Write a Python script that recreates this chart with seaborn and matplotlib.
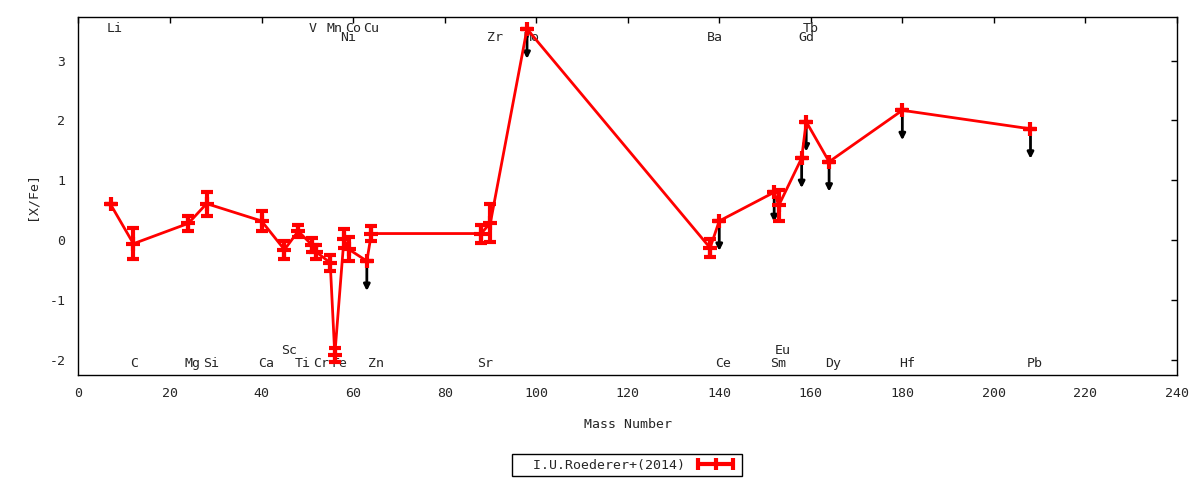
import seaborn as sns
import pandas as pd
import matplotlib.pyplot as plt
from matplotlib.lines import Line2D

# elements, mass numbers and [X/Fe]
elements = ["Li", "C", "Mg", "Si", "Ca", "Sc", "Ti", "V", "Cr", "Mn", "Fe", "Ni", "Co", "Cu",
            "Zn", "Sr", "Zr", "Mo", "Ba", "Ce", "Sm", "Eu", "Gd", "Tb", "Dy", "Hf", "Pb"]
mass = [7, 12, 24, 28, 40, 45, 48, 51, 52, 55, 56, 58, 59, 63,
        64, 88, 90, 98, 138, 140, 152, 153, 158, 159, 164, 180, 208]
xfe = [0.60, -0.06, 0.28, 0.61, 0.32, -0.16, 0.15, -0.08, -0.20, -0.38, -1.92, 0.02, -0.15, -0.35,
       0.11, 0.11, 0.29, 3.53, -0.13, 0.32, 0.80, 0.58, 1.37, 1.98, 1.31, 2.17, 1.86]
err = [0.0, 0.26, 0.13, 0.20, 0.17, 0.15, 0.10, 0.12, 0.12, 0.13, 0.12, 0.16, 0.20, 0.0,
       0.12, 0.15, 0.32, 0.0, 0.15, 0.0, 0.0, 0.26, 0.0, 0.0, 0.0, 0.0, 0.0]
upper_limit = [False, False, False, False, False, False, False, False, False, False, False, False, False, True,
               False, False, False, True, False, True, True, False, True, True, True, True, True]
# row of the element name label: t1/t2 near top, b1/b2 near bottom
label_row = ["t1", "b1", "b1", "b1", "b1", "b2", "b1", "t1", "b1", "t1", "b1", "t2", "t1", "t1",
             "b1", "b1", "t2", "t2", "t2", "b1", "b1", "b2", "t2", "t1", "b1", "b1", "b1"]

df = pd.DataFrame({"el": elements, "mass": mass, "xfe": xfe, "err": err,
                   "ul": upper_limit, "row": label_row})

sns.set_style("white")
plt.rcParams["font.family"] = ["DejaVu Sans Mono"]
plt.rcParams["font.size"] = 9.5
plt.rcParams["axes.unicode_minus"] = False

fig = plt.figure(figsize=(12, 4.8), dpi=100)
ax = fig.add_axes([0.0654, 0.2181, 0.9154, 0.7465])

row_y = {"t1": 3.545, "t2": 3.38, "b1": -2.07, "b2": -1.84}
for _, r in df.iterrows():
    ax.text(r["mass"] - 0.8, row_y[r["row"]], r["el"], ha="left", va="center", zorder=1)

# upper limits
for _, r in df[df["ul"]].iterrows():
    ax.annotate("", xy=(r["mass"], r["xfe"] - 0.5), xytext=(r["mass"], r["xfe"]),
                arrowprops=dict(arrowstyle="-|>", color="black", lw=2,
                                mutation_scale=9, shrinkA=0, shrinkB=0), zorder=2)

sns.lineplot(data=df, x="mass", y="xfe", color="red", lw=2, marker="+", markersize=10,
             markeredgewidth=3, markeredgecolor="red", estimator=None, sort=False, ax=ax, zorder=3)
ax.errorbar(df["mass"], df["xfe"], yerr=df["err"], fmt="none", ecolor="red",
            elinewidth=3, capsize=4.5, capthick=3, zorder=4)

ax.set_xlim(0, 240)
ax.set_ylim(-2.26, 3.73)
ax.set_xticks(range(0, 241, 20))
ax.set_yticks([-2, -1, 0, 1, 2, 3])
ax.tick_params(direction="in", top=True, right=True, length=4, width=1, color="black")
ax.tick_params(axis="x", pad=8.5)
ax.tick_params(axis="y", pad=9.5)
for s in ax.spines.values():
    s.set_color("black")
    s.set_linewidth(1)

ax.set_xlabel("Mass Number")
ax.set_ylabel("[X/Fe]")
ax.xaxis.set_label_coords(0.5, -0.119)
ax.yaxis.set_label_coords(-0.036, 0.5)

handle = Line2D([0, 1], [0, 0], color="red", lw=3, marker="|", markersize=9, markeredgewidth=3)
leg = fig.legend([handle], ["  I.U.Roederer+(2014)"], loc="center",
                 bbox_to_anchor=(627 / 1200, 1 - 465 / 480), numpoints=3, markerfirst=False,
                 frameon=True, fancybox=False, edgecolor="black", framealpha=1,
                 handlelength=3.25, borderpad=0.35, handletextpad=0.7, borderaxespad=0)
leg.get_frame().set_linewidth(1)

plt.savefig("out.png", dpi=100)
